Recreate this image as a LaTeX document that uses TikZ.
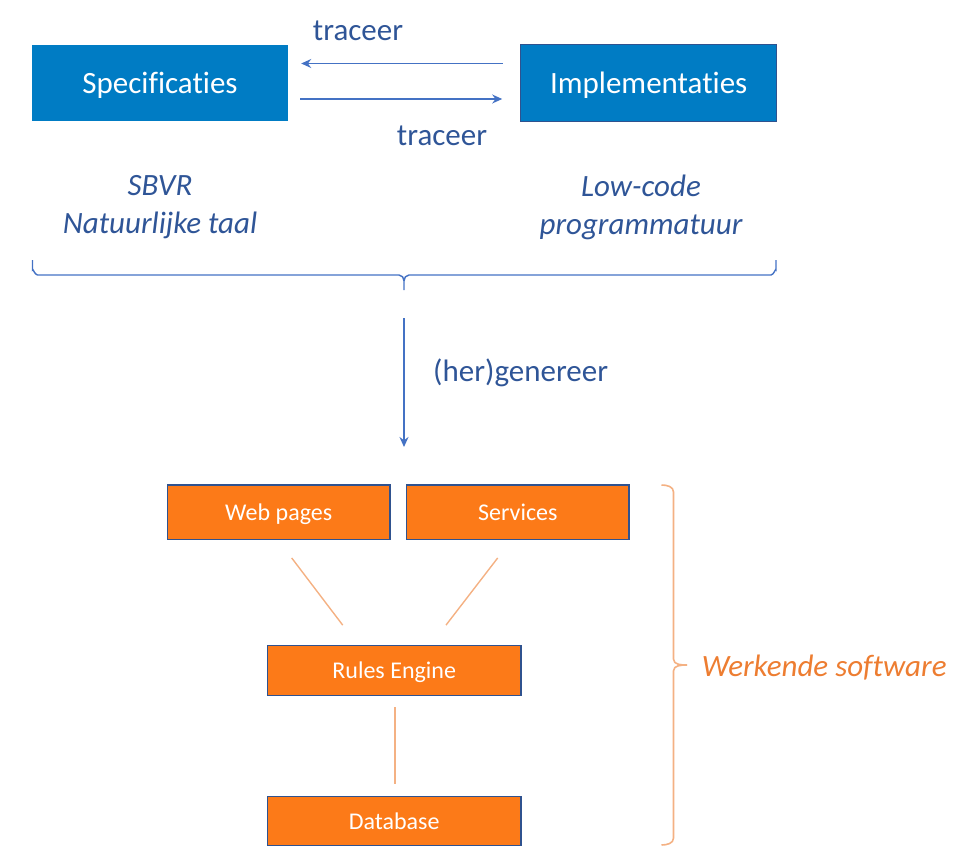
\documentclass[tikz,border=0pt]{standalone}
\usepackage{fontspec}
\setmainfont{Carlito}[RawFeature={-liga;-clig;-dlig}]
\usetikzlibrary{arrows.meta}
\newcommand{\nolig}{\kern0pt}
\definecolor{boxblue}{RGB}{0,124,196}
\definecolor{borderblue}{RGB}{47,82,143}
\definecolor{textblue}{RGB}{47,85,151}
\definecolor{lineblue}{RGB}{68,114,196}
\definecolor{boxorange}{RGB}{252,122,24}
\definecolor{lineorange}{RGB}{244,177,131}
\definecolor{textorange}{RGB}{237,125,49}
\tikzset{
  bluebox/.style={fill=boxblue, minimum width=256pt, minimum height=76pt, inner sep=0pt, text=white, font=\fontsize{31}{36}\selectfont, text height=26pt, text depth=5pt},
  orbox/.style={fill=boxorange, draw=borderblue, line width=1.2pt, inner sep=0pt, text=white, font=\fontsize{24}{28}\selectfont, text height=20pt, text depth=3.5pt},
  lbl/.style={text=textblue, font=\fontsize{31}{38}\selectfont, inner sep=0pt},
  ilbl/.style={text=textblue, font=\fontsize{31}{38}\selectfont\itshape, inner sep=0pt, align=center},
  arr/.style={draw=lineblue, line width=1.5pt, -{Stealth[length=10pt,width=9pt]}},
  bline/.style={draw=lineblue, line width=1.4pt},
  oline/.style={draw=lineorange, line width=1.4pt},
}
\begin{document}
\begin{tikzpicture}[x=1pt,y=-1pt]
\useasboundingbox (0,0) rectangle (959,851);
% top boxes
\node[bluebox] (spec) at (160,83) {Specificat\nolig ies};
\node[bluebox, draw=borderblue, line width=1pt] (impl) at (648.7,83) {Implementat\nolig ies};
\draw[arr] ([xshift=-17.7pt,yshift=19.5pt]impl.west) -- ([xshift=13pt,yshift=19.5pt]spec.east);
\draw[arr] ([xshift=12pt,yshift=-16pt]spec.east) -- ([xshift=-18pt,yshift=-16pt]impl.west);
\node[lbl] (tr1) at (358,31) {traceer};
\node[lbl] (tr2) at (442,136) {traceer};
% italic labels
\node[ilbl] (sbvr) at (160,207.5) {SBVR\\Natuurlijke taal};
\node[ilbl] (lowc) at (641,207.5) {Low-code\\programmatuur};
% top brace
\coordinate (btip) at (404,290);
\draw[bline] (32.5,260) -- (32.5,270) to[out=90,in=180] (37.5,275) -- (399,275) to[out=0,in=90] (404,281) -- (btip);
\draw[bline] (404,281) to[out=90,in=180] (409,275) -- (771,275) to[out=0,in=90] (776,270) -- (776,260);
% generate arrow
\coordinate (gend) at (404,447);
\draw[arr] ([yshift=-28pt]btip) -- (gend);
\node[lbl, anchor=west] (gen) at (433,373) {(her)genereer};
% orange boxes
\node[orbox, minimum width=222.7pt, minimum height=54.3pt] (web) at (278.7,512.2) {Web pages};
\node[orbox, minimum width=222.3pt, minimum height=54.3pt] (serv) at (517.8,512.2) {Services};
\node[orbox, minimum width=253.7pt, minimum height=50pt] (rules) at (394.2,670.7) {Rules Engine};
\node[orbox, minimum width=253.7pt, minimum height=49pt] (db) at (394.2,821.2) {Database};
\draw[oline] ([xshift=13pt,yshift=-18pt]web.south) -- ([xshift=-51.5pt,yshift=20pt]rules.north);
\draw[oline] ([xshift=-20.1pt,yshift=-18pt]serv.south) -- ([xshift=51.8pt,yshift=20pt]rules.north);
\draw[oline] ([xshift=0.8pt,yshift=-11pt]rules.south) -- ([xshift=0.8pt,yshift=11.7pt]db.north);
% orange brace
\draw[oline, line width=1.6pt] (661.5,485) to[out=0,in=90] (673.5,492) -- (673.5,659) to[out=-90,in=180] (687,665);
\draw[oline, line width=1.6pt] (687,665) to[out=180,in=90] (673.5,671) -- (673.5,838) to[out=-90,in=0] (661.5,845);
\node[text=textorange, font=\fontsize{31}{38}\selectfont\itshape, inner sep=0pt, anchor=west] (werk) at (701.7,667.5) {Werkende software};
\end{tikzpicture}
\end{document}
